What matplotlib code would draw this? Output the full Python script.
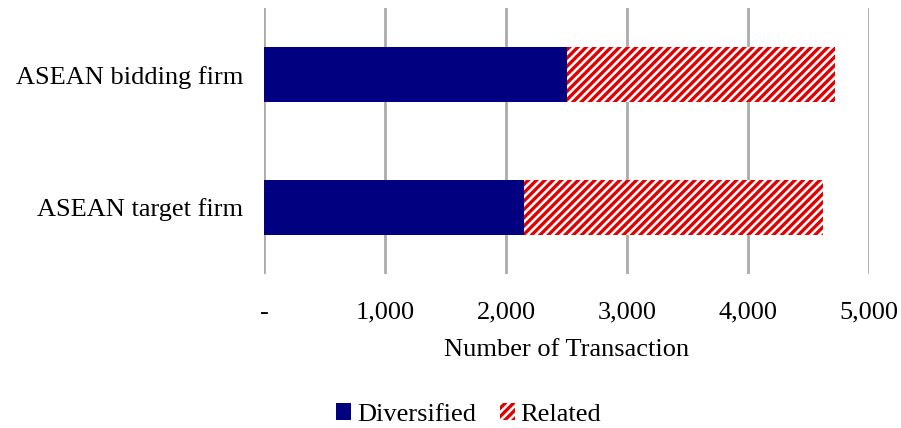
import matplotlib
matplotlib.use("Agg")
import matplotlib.pyplot as plt

plt.rcParams['font.family'] = ['Liberation Serif', 'DejaVu Serif']
plt.rcParams['hatch.linewidth'] = 2.4

categories = ["ASEAN target firm", "ASEAN bidding firm"]
diversified = [2145, 2500]
related = [2475, 2220]
xticks = [0, 1000, 2000, 3000, 4000, 5000]
xticklabels = ["-", "1,000", "2,000", "3,000", "4,000", "5,000"]

fig = plt.figure(figsize=(9.01, 4.28), dpi=100)
ax = fig.add_axes([0.293, 0.360, 0.6715, 0.621])

navy = "#000080"
red = "#E00000"
fs = 19
y = range(len(categories))
h = 0.41
ax.barh(y, diversified, height=h, color=navy, label="Diversified", zorder=3)
ax.barh(y, related, left=diversified, height=h, facecolor="white", edgecolor=red,
        hatch="////", linewidth=0, label="Related", zorder=3)

ax.set_xlim(0, 5000)
ax.set_ylim(-0.5, 1.5)
ax.set_yticks(list(y))
ax.set_yticklabels(categories, fontsize=fs)
ax.set_xticks(xticks)
ax.set_xticklabels(xticklabels, fontsize=fs)
ax.tick_params(axis='both', length=0)
ax.tick_params(axis='x', pad=20)
ax.tick_params(axis='y', pad=15)
ax.grid(axis='x', color="#ABABAB", linewidth=2, zorder=0)
for s in ax.spines.values():
    s.set_visible(False)
ax.set_xlabel("Number of Transaction", fontsize=fs, labelpad=11)

leg = fig.legend(loc="lower center", bbox_to_anchor=(0.52, -0.05), ncol=2, frameon=False,
                 fontsize=fs, handlelength=0.58, handleheight=0.58, handletextpad=0.2,
                 columnspacing=0.9)

fig.savefig("out.png", dpi=100)
